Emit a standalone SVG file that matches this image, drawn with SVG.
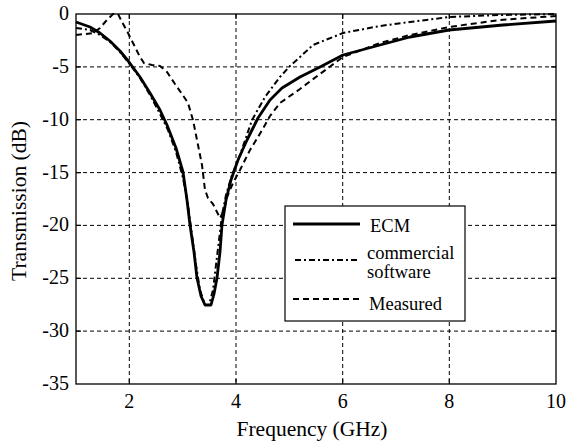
<svg xmlns="http://www.w3.org/2000/svg" width="566" height="442" viewBox="0 0 566 442">
<style>
.grid{stroke:#000;stroke-width:1;stroke-dasharray:4 3;fill:none}
.tick{stroke:#000;stroke-width:1.2;fill:none}
.ecm{stroke:#000;stroke-width:2.8;fill:none;stroke-linejoin:round}
.sw{stroke:#000;stroke-width:2;fill:none;stroke-dasharray:6 3 2 3}
.meas{stroke:#000;stroke-width:2;fill:none;stroke-dasharray:6 4}
</style>
<rect width="566" height="442" fill="#fff"/>
<g id="grid">
<path class="grid" d="M129.3,14V384M236,14V384M342.7,14V384M449.3,14V384"/>
<path class="grid" d="M76,66.9H556M76,119.7H556M76,172.6H556M76,225.4H556M76,278.3H556M76,331.1H556"/>
<path class="tick" d="M129.3,384v-5M236,384v-5M342.7,384v-5M449.3,384v-5M129.3,14v5M236,14v5M342.7,14v5M449.3,14v5"/>
<path class="tick" d="M76,66.9h5M76,119.7h5M76,172.6h5M76,225.4h5M76,278.3h5M76,331.1h5M556,66.9h-5M556,119.7h-5M556,172.6h-5M556,225.4h-5M556,278.3h-5M556,331.1h-5"/>
</g>
<g id="axes" font-family="'Liberation Serif', 'Times New Roman', Times, serif" fill="#000">
<rect x="76" y="14" width="480" height="370" fill="none" stroke="#000" stroke-width="1.3"/>
<g font-size="20" text-anchor="end">
<text x="69" y="20">0</text>
<text x="69" y="73">-5</text>
<text x="69" y="126">-10</text>
<text x="69" y="179">-15</text>
<text x="69" y="231">-20</text>
<text x="69" y="284">-25</text>
<text x="69" y="337">-30</text>
<text x="69" y="390">-35</text>
</g>
<g font-size="20" text-anchor="middle">
<text x="129.3" y="408">2</text>
<text x="236" y="408">4</text>
<text x="342.7" y="408">6</text>
<text x="449.3" y="408">8</text>
<text x="556" y="408">10</text>
</g>
<text font-size="21.5" x="312" y="436" text-anchor="middle">Frequency (GHz)</text>
<text font-size="21.5" transform="translate(26,201) rotate(-90)" text-anchor="middle">Transmission (dB)</text>
</g>
<g id="connectors">
<path id="ecm" class="ecm" d="M76,22 L90,27 L100,33 L110,41 L120,51 L129,62 L140,77 L150,93 L160,110 L167,125 L176,148 L183,172 L187,200 L190,225 L194,252 L197,278 L201,296 L205,305 L211,305 L214,294 L217,278 L220,252 L222,225 L226,200 L231,180 L238,160 L247,140 L258,118 L270,100 L282,88 L300,77 L320,67 L343,55 L380,45 L410,37 L449,30 L503,25 L556,21"/>
<path id="software" class="sw" d="M76,28 L90,30 L100,35 L110,42 L120,52 L129,63 L140,78 L150,95 L160,114 L168,130 L176,152 L183,178 L188,205 L192,235 L196,265 L200,290 L205,305 L209,305 L213,290 L216,265 L219,240 L222,215 L226,195 L232,175 L240,155 L252,120 L265,97 L280,77 L290,66 L300,57 L313,45 L343,33 L380,26 L410,22 L449,17 L500,15 L556,14"/>
<path id="measured" class="meas" d="M76,35 L85,34 L93,33 L100,28 L106,21 L113,14 L118,14 L122,22 L128,33 L134,45 L140,57 L144,63 L152,65 L160,66 L167,72 L175,84 L182,94 L188,103 L193,120 L198,145 L202,165 L205,190 L208,198 L213,204 L217,212 L220,218 L224,210 L227,197 L233,183 L240,170 L250,150 L258,137 L265,125 L270,116 L280,103 L300,89 L320,74 L343,57 L380,43 L410,35 L449,27 L500,20 L556,16"/>
</g>
<g id="legend" font-family="'Liberation Serif', 'Times New Roman', Times, serif" font-size="18.5" fill="#000">
<rect x="285" y="206" width="180" height="115" fill="#fff" stroke="#000" stroke-width="1.2"/>
<line class="ecm" x1="293" y1="224" x2="360" y2="224"/>
<line class="sw" x1="295" y1="260" x2="358" y2="260"/>
<line class="meas" x1="293" y1="299" x2="360" y2="299"/>
<text x="370" y="232">ECM</text>
<text x="367" y="259">commercial</text>
<text x="367" y="278">software</text>
<text x="369" y="310">Measured</text>
</g>
</svg>
